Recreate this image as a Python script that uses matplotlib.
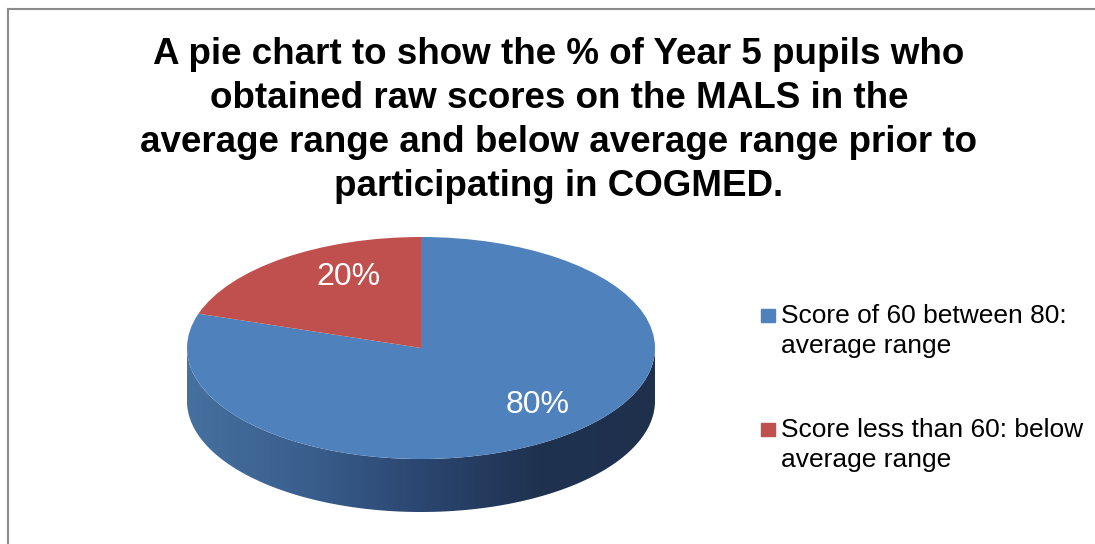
import numpy as np
import matplotlib
matplotlib.use("Agg")
import matplotlib.pyplot as plt
from matplotlib.patches import Polygon, Rectangle
from matplotlib.colors import LinearSegmentedColormap

# data
categories = ["Score of 60 between 80:\naverage range",
              "Score less than 60: below\naverage range"]
shares = [80, 20]
colors = ["#4F81BD", "#C0504D"]
title_lines = ["A pie chart to show the % of Year 5 pupils who",
               "obtained raw scores on the MALS in the",
               "average range and below average range prior to",
               "participating in COGMED."]

plt.rcParams['font.family'] = ['Liberation Sans', 'DejaVu Sans']

W, H = 1095, 544
fig = plt.figure(figsize=(W / 100, H / 100), dpi=100)

# frame lines (top and left border of the chart area)
fig.add_artist(plt.Line2D([8 / W, 1], [1 - 9 / H, 1 - 9 / H], color="#8c8c8c", lw=1.5))
fig.add_artist(plt.Line2D([8 / W, 8 / W], [0, 1 - 9 / H], color="#8c8c8c", lw=1.5))

# title, one line at a time
for i, line in enumerate(title_lines):
    fig.text(559 / W, 1 - (64 + 44 * i) / H, line, ha="center", va="baseline",
             fontsize=26.5, fontweight="bold")

# pie axes: unit circle squashed into an ellipse to fake the 3D tilt
cx, cy, a, b = 421, 348, 234, 111
xl, yt, yb = 1.2, 1.3, 1.8
ax = fig.add_axes([(cx - a * xl) / W, (H - (cy + b * yb)) / H,
                   2 * a * xl / W, b * (yt + yb) / H])

depth = 53 / b
theta = np.linspace(np.pi, 2 * np.pi, 200)
top = np.sin(theta)
wall = np.concatenate([np.column_stack([np.cos(theta), top]),
                       np.column_stack([np.cos(theta[::-1]), top[::-1] - depth])])
clip = Polygon(wall, closed=True, facecolor="none", edgecolor="none")
ax.add_patch(clip)
cmap = LinearSegmentedColormap.from_list("wall", ["#46709f", "#3a5f8e", "#2b4670", "#1f3250", "#1e304c"])
grad = np.linspace(0, 1, 256).reshape(1, -1)
img = ax.imshow(grad, cmap=cmap, extent=(-1, 1, -1 - depth, 0), aspect="auto", zorder=0)
img.set_clip_path(clip)

wedges, texts, autotexts = ax.pie(shares, colors=colors, startangle=90, counterclock=False,
                                  autopct="%1.0f%%", pctdistance=0.72,
                                  wedgeprops=dict(linewidth=0),
                                  textprops=dict(color="white", fontsize=23))
for w in wedges:
    w.set_zorder(2)
for t in autotexts:
    t.set_zorder(3)
# label spots as in the reference (perspective pulls them off the mid-ray)
autotexts[0].set_position((0.50, -0.51))
autotexts[1].set_position((-0.31, 0.64))

ax.set_aspect("auto")
ax.set_xlim(-xl, xl)
ax.set_ylim(-yb, yt)
ax.axis("off")

# legend drawn by hand so the marker sits on the first line
leg_base = [323, 437]
for lab, col, y in zip(categories, colors, leg_base):
    fig.add_artist(Rectangle((761 / W, 1 - (y - 1) / H), 14 / W, 13 / H,
                             transform=fig.transFigure, color=col))
    for j, part in enumerate(lab.split("\n")):
        fig.text(781 / W, 1 - (y + 30 * j) / H, part, ha="left", va="baseline", fontsize=19)

fig.savefig("out.png", dpi=100)
